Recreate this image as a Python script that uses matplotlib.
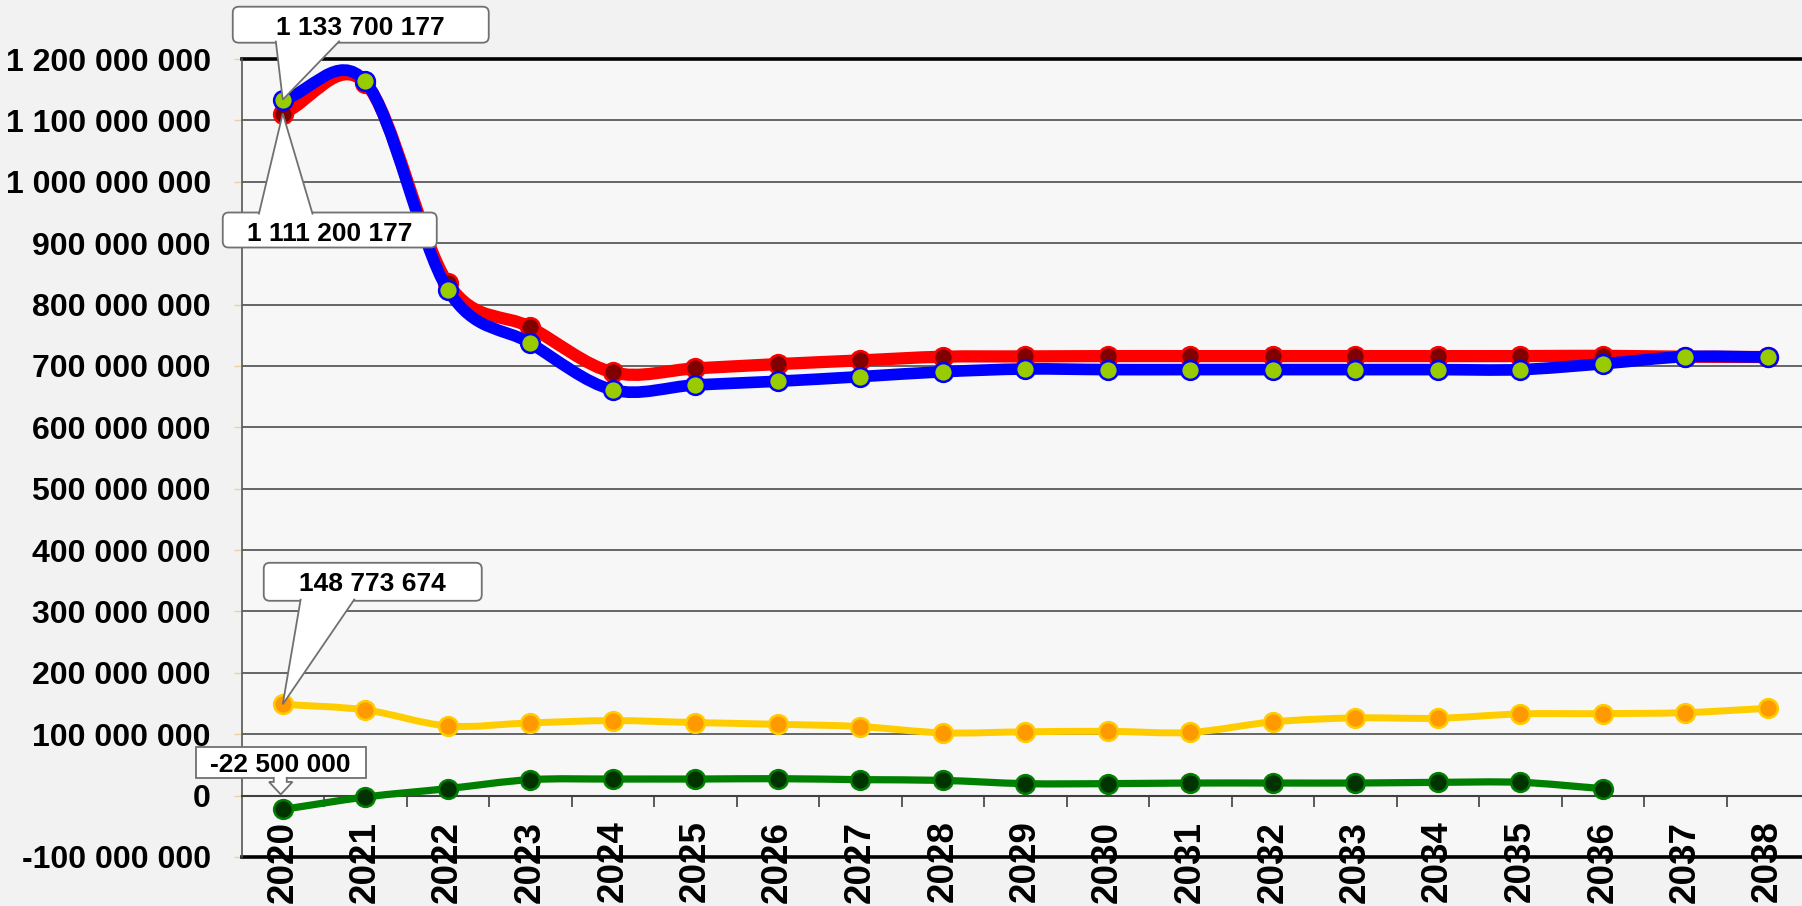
import numpy as np
import matplotlib.pyplot as plt
import matplotlib.transforms as mtransforms
from matplotlib.path import Path
from matplotlib.patches import PathPatch, FancyBboxPatch, Polygon
from matplotlib.ticker import FuncFormatter

years = list(range(2020, 2039))
red = [1111200177, 1161e6, 835e6, 763e6, 689.5e6, 696e6, 703e6, 709e6, 715e6, 715.5e6,
       716e6, 716e6, 716e6, 716e6, 716e6, 716e6, 716.5e6, 715e6, 714.5e6]
blue = [1133700177, 1163.5e6, 824e6, 737e6, 661e6, 669e6, 675e6, 682.5e6, 690.5e6, 695e6,
        694e6, 694e6, 694e6, 694e6, 694e6, 694e6, 703.5e6, 715e6, 714.5e6]
yellow = [148773674, 139.6e6, 113.6e6, 118.5e6, 122.2e6, 119e6, 116.2e6, 112.5e6, 102.3e6, 104e6,
          104.8e6, 103e6, 120.1e6, 126.6e6, 126e6, 133.1e6, 133.6e6, 135.2e6, 142.2e6]
green = [-22500000, -2.3e6, 11.4e6, 26e6, 27e6, 27e6, 27.6e6, 26e6, 24.8e6, 19.5e6,
         19.5e6, 20.5e6, 20.5e6, 20.5e6, 21.6e6, 21.6e6, 11.4e6]

plt.rcParams['font.family'] = ['Liberation Sans', 'DejaVu Sans']
plt.rcParams['font.weight'] = 'bold'

fig = plt.figure(figsize=(18.02, 9.06), dpi=100, facecolor='#f2f2f2')
ax = fig.add_axes([241.5 / 1802, 49 / 906, 1567.5 / 1802, 798 / 906])
ax.set_facecolor('#f7f7f7')
x = np.arange(len(years))


def fmt(v, pos=None):
    return f"{int(round(v)):,}".replace(',', ' ')


def smooth(xs, ys):
    # excel-like smoothed line: bezier segments with catmull-rom control points
    pts = np.column_stack([xs, ys]).astype(float)
    tang = np.zeros_like(pts)
    tang[1:-1] = (pts[2:] - pts[:-2]) / 2
    tang[0] = pts[1] - pts[0]
    tang[-1] = pts[-1] - pts[-2]
    verts = [pts[0]]
    codes = [Path.MOVETO]
    for i in range(len(pts) - 1):
        verts += [pts[i] + tang[i] / 3, pts[i + 1] - tang[i + 1] / 3, pts[i + 1]]
        codes += [Path.CURVE4] * 3
    return Path(verts, codes)


series = [
    (red, '#ff0000', 8.8, '#800000', '#ff0000'),
    (blue, '#0000ff', 8.4, '#99cc00', '#0000ff'),
    (yellow, '#ffcc00', 5.0, '#ff9900', '#ffcc00'),
    (green, '#008000', 5.2, '#003300', '#008000'),
]
for vals, lc, lw, mfc, mec in series:
    xs = x[:len(vals)]
    ax.add_patch(PathPatch(smooth(xs, vals), fill=False, ec=lc, lw=lw,
                           capstyle='round', joinstyle='round', zorder=3))
    ax.plot(xs, vals, ls='none', marker='o', ms=13.5, mfc=mfc, mec=mec, mew=1.8, zorder=3)


def offset_trans(xi, yi):
    return mtransforms.Affine2D().scale(fig.dpi / 100) + mtransforms.ScaledTranslation(xi, yi, ax.transData)


edge = '#707070'


def callout(xi, yi, box, base, text_xy, rounded=True):
    tr = offset_trans(xi, yi)
    x0, y0, x1, y1 = box
    style = 'round,pad=0,rounding_size=6' if rounded else 'square,pad=0'
    ax.add_patch(FancyBboxPatch((x0, y0), x1 - x0, y1 - y0, boxstyle=style, fc='white',
                                ec=edge, lw=1.3, transform=tr, clip_on=False, zorder=5))
    if len(base) == 3:
        bx0, bx1, by = base
        inner = by + (2 if by > 0 else -2)
        ax.add_patch(Polygon([(bx0, inner), (0, 0), (bx1, inner)], closed=False, fc='white',
                             ec=edge, lw=1.3, transform=tr, clip_on=False, zorder=5))
    else:
        ax.add_patch(Polygon(base, closed=False, fc='white', ec=edge, lw=1.3,
                             transform=tr, clip_on=False, zorder=5))
    ax.text(text_xy[0], text_xy[1], fmt(yi), transform=tr, ha='center', va='baseline',
            fontsize=19, fontweight='bold', zorder=6, clip_on=False)


callout(0, blue[0], (-50, 57, 206, 93), (-7, 57, 57), (78, 65))
callout(0, red[0], (-60, -134, 154, -99), (-24, 30, -99), (47, -127))
callout(0, yellow[0], (-19, 103.5, 199, 141.5), (18, 72, 103.5), (90, 113))
callout(0, green[0], (-87, 31, 83, 62),
        [(-9, 32.5), (-9, 27.5), (-13.7, 27.5), (-2, 15), (9.7, 27.5), (4, 27.5), (4, 32.5)],
        (-3, 37), rounded=False)

ax.set_xlim(-0.5, 18.5)
ax.set_ylim(-100e6, 1200e6)
ax.set_yticks(np.arange(-100e6, 1200e6 + 1, 100e6))
ax.yaxis.set_major_formatter(FuncFormatter(fmt))
ax.tick_params(axis='y', length=6, width=1, color='#f0d0a0', pad=16, labelsize=23)
ax.set_xticks(x)
ax.set_xticklabels([str(y) for y in years])
ax.set_xticks(np.arange(0.5, 18, 1), minor=True)
ax.tick_params(axis='x', which='major', length=0, pad=18, labelsize=26.5, labelrotation=90)
ax.tick_params(axis='x', which='minor', length=8, width=1.2, color='#404040')

ax.grid(axis='y', color='#4d4d4d', lw=1.2)
ax.set_axisbelow(True)
for s in ['top', 'right']:
    ax.spines[s].set_visible(False)
ax.spines['bottom'].set_position(('data', 0))
ax.spines['bottom'].set_color('#404040')
ax.spines['bottom'].set_linewidth(1.5)
ax.spines['left'].set_color('#555555')
ax.spines['left'].set_linewidth(1.2)
ax.axhline(1200e6, color='black', lw=2.6, clip_on=False, zorder=2)
ax.axhline(-100e6, color='black', lw=2.6, clip_on=False, zorder=2)

fig.savefig('out.png', dpi=100, facecolor=fig.get_facecolor())
